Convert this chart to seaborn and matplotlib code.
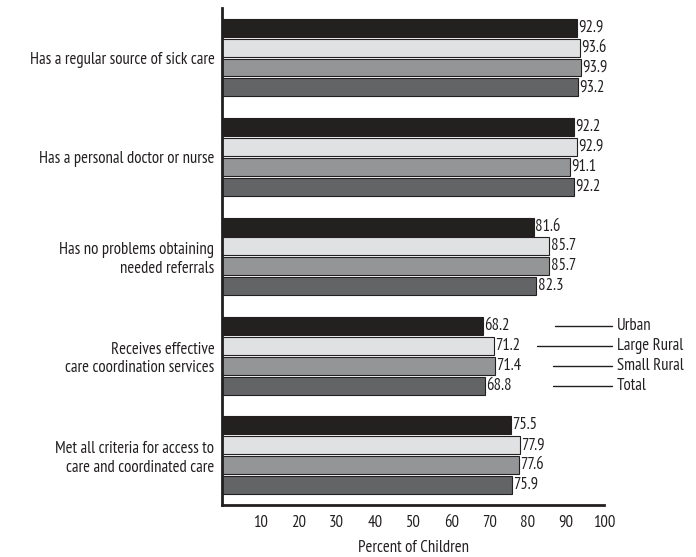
import matplotlib
matplotlib.use("Agg")
import matplotlib.pyplot as plt
import seaborn as sns
import pandas as pd

categories = [
    "Has a regular source of sick care",
    "Has a personal doctor or nurse",
    "Has no problems obtaining\nneeded referrals",
    "Receives effective\ncare coordination services",
    "Met all criteria for access to\ncare and coordinated care",
]
series = ["Urban", "Large Rural", "Small Rural", "Total"]
urban = [92.9, 92.2, 81.6, 68.2, 75.5]
large_rural = [93.6, 92.9, 85.7, 71.2, 77.9]
small_rural = [93.9, 91.1, 85.7, 71.4, 77.6]
total = [93.2, 92.2, 82.3, 68.8, 75.9]
x_ticks = [10, 20, 30, 40, 50, 60, 70, 80, 90, 100]

colors = ["#231f20", "#e0e1e3", "#939598", "#636466"]
ink = "#231f20"

sns.set_style("white")
plt.rcParams["font.family"] = ["PT Sans Narrow", "Roboto Condensed", "Liberation Sans", "DejaVu Sans"]

rows = []
for s, vals in zip(series, [urban, large_rural, small_rural, total]):
    for c, v in zip(categories, vals):
        rows.append({"cat": c, "series": s, "value": v})
df = pd.DataFrame(rows)

fs = 12
fig = plt.figure(figsize=(6.96, 5.57), dpi=100)
ax = fig.add_axes([0.319, 0.0934, 0.549, 0.8926])
sns.barplot(data=df, y="cat", x="value", hue="series", hue_order=series,
            order=categories, palette=colors, orient="h", gap=0.1,
            edgecolor=ink, linewidth=0.8, ax=ax, legend=False)

for cont in ax.containers:
    ax.bar_label(cont, fmt="%.1f", padding=1, fontsize=fs, color=ink)

ax.set_xlim(0, 100)
ax.set_ylim(4.5, -0.5)
ax.set_xticks(x_ticks)
ax.set_xticklabels([str(t) for t in x_ticks], fontsize=fs, color=ink)
ax.tick_params(axis="x", direction="in", length=4, width=1.5, color=ink, pad=7)
ax.tick_params(axis="y", length=0, labelsize=fs, labelcolor=ink, pad=5.5)
for lab in ax.get_yticklabels():
    lab.set_horizontalalignment("right")
    lab.set_multialignment("right")
ax.set_xlabel("Percent of Children", fontsize=fs, color=ink, labelpad=7)
ax.set_ylabel("")
for side in ["top", "right"]:
    ax.spines[side].set_visible(False)
for side in ["left", "bottom"]:
    ax.spines[side].set_linewidth(2)
    ax.spines[side].set_color(ink)

# leader-line legend next to group 4
offsets = [-0.3, -0.1, 0.1, 0.3]
starts = [87.2, 82.5, 86.6, 86.6]
for s, off, x0 in zip(series, offsets, starts):
    y = 3 + off
    ax.plot([x0, 102], [y, y], color=ink, lw=1, clip_on=False)
    ax.text(103.4, y, s, va="center", ha="left", fontsize=fs, color=ink, clip_on=False)

fig.savefig("out.png", dpi=100)
